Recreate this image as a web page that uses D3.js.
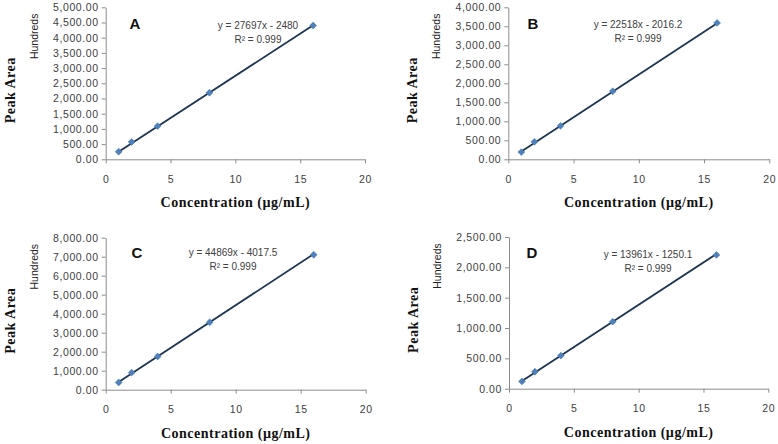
<!DOCTYPE html>
<html><head><meta charset="utf-8">
<script src="https://cdn.jsdelivr.net/npm/d3@7"></script>
<style>body{margin:0;background:#fff}svg{display:block}</style>
</head><body>
<svg id="c" width="778" height="444"></svg>
<script>
// ---- data ----
const concentrations = [1, 2, 4, 8, 16];
const panelLabels = ["A", "B", "C", "D"];
const peakA = [250, 570, 1090, 2190, 4400];
const peakB = [190, 460, 880, 1790, 3590];
const peakC = [380, 900, 1750, 3550, 7100];
const peakD = [120, 280, 545, 1105, 2205];
const slopes = [27697, 22518, 44869, 13961];
const intercepts = [-2480, -2016.2, -4017.5, -1250.1];
const equations = ["y = 27697x - 2480", "y = 22518x - 2016.2", "y = 44869x - 4017.5", "y = 13961x - 1250.1"];
const r2Labels = ["R² = 0.999", "R² = 0.999", "R² = 0.999", "R² = 0.999"];
const yMax = [5000, 4000, 8000, 2500];
const yStep = [500, 500, 1000, 500];
const xTicks = [0, 5, 10, 15, 20];
const xTitle = "Concentration (µg/mL)";
const yTitle = "Peak Area";
const unitLabel = "Hundreds";

// ---- layout ----
const layouts = [
  {x0:105.7, x1:365,   top:7.3,   base:159.3, eqX:258, eqY:29,  lblX:135, lblY:29},
  {x0:508.3, x1:769.3, top:7.3,   base:159.3, eqX:638, eqY:28,  lblX:533, lblY:29},
  {x0:105.7, x1:365.7, top:237.7, base:389.7, eqX:233, eqY:256, lblX:137, lblY:258},
  {x0:509,   x1:768.3, top:237,   base:388.7, eqX:648, eqY:258, lblX:532, lblY:258}
];
const series = [peakA, peakB, peakC, peakD];
const svg = d3.select("#c");
const fmt = d3.format(",.2f");

series.forEach((vals, i) => {
  const L = layouts[i];
  const x = d3.scaleLinear().domain([0, 20]).range([L.x0, L.x1]);
  const y = d3.scaleLinear().domain([0, yMax[i]]).range([L.base, L.top]);
  const g = svg.append("g");
  const yt = d3.range(0, yMax[i] + 1e-6, yStep[i]);

  const ya = g.append("g").attr("transform", `translate(${L.x0},0)`)
    .call(d3.axisLeft(y).tickValues(yt).tickFormat(fmt).tickSize(4).tickPadding(3).tickSizeOuter(0));
  const xa = g.append("g").attr("transform", `translate(0,${L.base})`)
    .call(d3.axisBottom(x).tickValues(xTicks).tickFormat(d3.format("d")).tickSize(4).tickPadding(12).tickSizeOuter(0));
  [ya, xa].forEach(a => {
    a.select(".domain").attr("stroke", "#8c8c8c");
    a.selectAll(".tick line").attr("stroke", "#8c8c8c");
    a.selectAll("text").attr("fill", "#404040").attr("font-family", "Liberation Sans, Arial, sans-serif")
      .attr("font-size", 10.5).attr("letter-spacing", 0.6);
  });

  // trendline
  const f = c => (slopes[i] * c + intercepts[i]) / 100;
  const c0 = d3.min(concentrations), c1 = d3.max(concentrations);
  g.append("line").attr("x1", x(c0)).attr("y1", y(f(c0))).attr("x2", x(c1)).attr("y2", y(f(c1)))
    .attr("stroke", "#1c3553").attr("stroke-width", 1.8);

  // markers
  g.selectAll("path.m").data(vals).join("path").attr("class", "m")
    .attr("transform", (d, j) => `translate(${x(concentrations[j])},${y(d)})`)
    .attr("d", d3.symbol(d3.symbolDiamond2, 30)())
    .attr("fill", "#4f81bd").attr("stroke", "#3d6fa8").attr("stroke-width", 0.5);

  // equation labels
  g.append("text").attr("x", L.eqX).attr("y", L.eqY).attr("text-anchor", "middle")
    .attr("font-family", "Liberation Sans, Arial, sans-serif").attr("font-size", 10).attr("fill", "#404040")
    .text(equations[i]);
  g.append("text").attr("x", L.eqX).attr("y", L.eqY + 14).attr("text-anchor", "middle")
    .attr("font-family", "Liberation Sans, Arial, sans-serif").attr("font-size", 10).attr("fill", "#404040")
    .text(r2Labels[i]);

  // panel letter
  g.append("text").attr("x", L.lblX).attr("y", L.lblY).attr("text-anchor", "middle")
    .attr("font-family", "Liberation Sans, Arial, sans-serif").attr("font-size", 15).attr("font-weight", "bold")
    .attr("fill", "#111").text(panelLabels[i]);

  // Hundreds
  const hx = L.x0 - 68, hy = L.top + 29;
  g.append("text").attr("transform", `translate(${hx},${hy}) rotate(-90)`).attr("text-anchor", "middle")
    .attr("font-family", "Liberation Sans, Arial, sans-serif").attr("font-size", 10.5).attr("fill", "#222")
    .text(unitLabel);

  // y title
  const px = L.x0 - 91, py = (L.top + L.base) / 2 + 7;
  g.append("text").attr("transform", `translate(${px},${py}) rotate(-90)`).attr("text-anchor", "middle")
    .attr("font-family", "Liberation Serif, Times New Roman, serif").attr("font-size", 14).attr("font-weight", "bold")
    .attr("letter-spacing", 0.5).attr("fill", "#111").text(yTitle);

  // x title
  g.append("text").attr("x", x(10)).attr("y", L.base + 48).attr("text-anchor", "middle")
    .attr("font-family", "Liberation Serif, Times New Roman, serif").attr("font-size", 14).attr("font-weight", "bold")
    .attr("letter-spacing", 0.5).attr("fill", "#111").text(xTitle);
});
</script>
</body></html>
